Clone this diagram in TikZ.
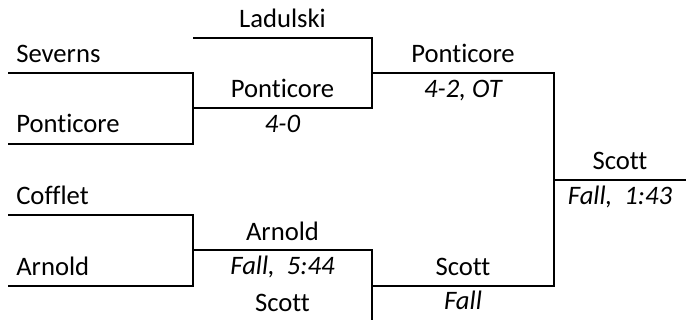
\documentclass[tikz,border=0pt]{standalone}
\usepackage{fontspec}
\setmainfont{Carlito}[Ligatures={NoCommon}]
\tikzset{
  bracket/.style={line width=1.6pt},
  entrant/.style={anchor=base west,inner sep=0pt},
  winner/.style={anchor=base},
  result/.style={anchor=base,font=\fontsize{20}{24}\selectfont\itshape},
}
\begin{document}
\begin{tikzpicture}[x=0.75pt,y=-0.75pt,font=\fontsize{20}{24}\selectfont]
\useasboundingbox (0,0) rectangle (686,320);
% bracket corners
\coordinate (a1) at (8,73);
\coordinate (a2) at (8,144);
\coordinate (a3) at (8,215);
\coordinate (a4) at (8,286);
\coordinate (m1) at (193,108);
\coordinate (m3) at (193,250);
\coordinate (lad) at (193,38);
\coordinate (j2) at (372,73);
\coordinate (j3) at (372,286);
\coordinate (bot) at (372,320);
\coordinate (fin) at (554,180);
\coordinate (end) at (686,180);
% lines
\draw[bracket] (a1) -| (m1) |- (a2);
\draw[bracket] (a3) -| (m3) |- (a4);
\draw[bracket] (lad) -| (j2) |- (m1);
\draw[bracket] (m3) -| (j3) -- (bot);
\draw[bracket] (j2) -| (fin) |- (j3);
\draw[bracket] (fin) -- (end);
% names
\node[entrant] (severns) at (16,63) {Severns};
\node[entrant] (ponticoreA) at (16,133) {Ponticore};
\node[entrant] (cofflet) at (16,205) {Cofflet};
\node[entrant] (arnoldA) at (16,276) {Arnold};
\node[winner] (ladulski) at (282.5,28) {Ladulski};
\node[winner] (ponticoreB) at (282.5,98) {Ponticore};
\node[result] (scoreB) at (282.5,133) {4-0};
\node[winner] (arnoldB) at (282.5,241) {Arnold};
\node[result] (scoreC) at (282.5,275) {Fall,~~5:44};
\node[winner] (scottA) at (282.5,312) {Scott};
\node[winner] (ponticoreC) at (463,63) {Ponticore};
\node[result] (scoreD) at (463,98) {4-2, OT};
\node[winner] (scottB) at (463,276) {Scott};
\node[result] (scoreE) at (463,310) {Fall};
\node[winner] (scottC) at (620,170) {Scott};
\node[result] (scoreF) at (620,205) {Fall,~~1:43};
\end{tikzpicture}
\end{document}
